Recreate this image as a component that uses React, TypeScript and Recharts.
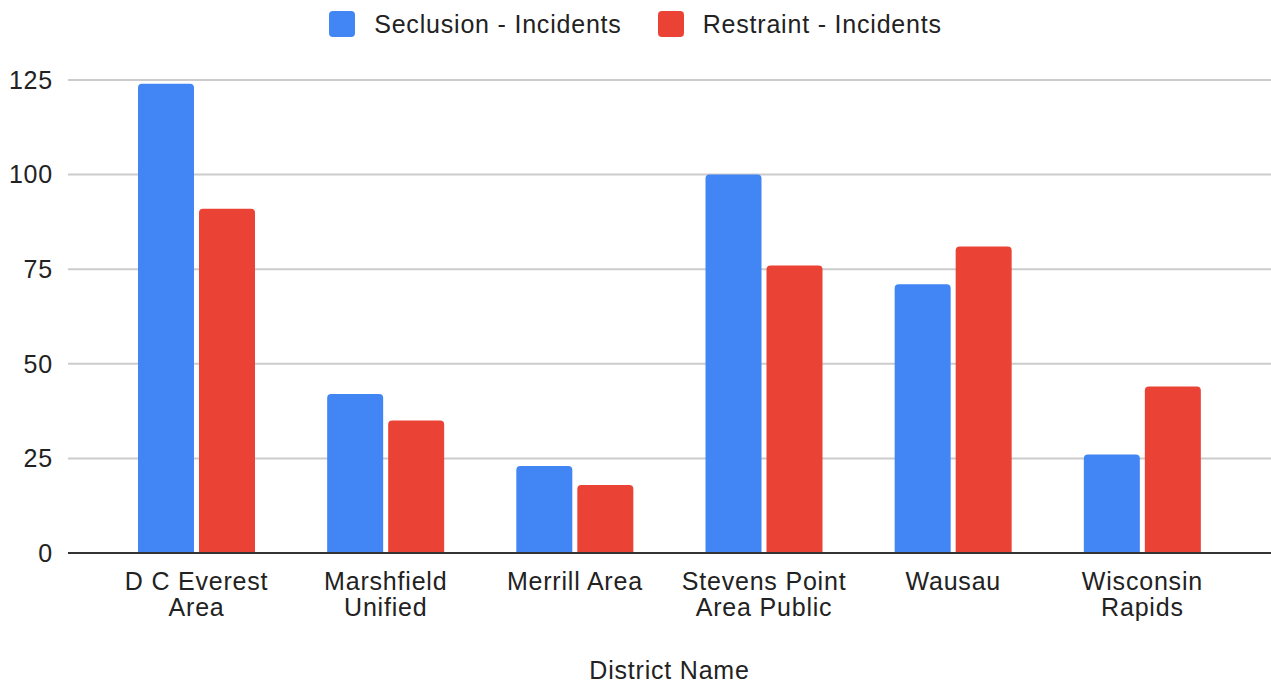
import React from "react";
import { BarChart, Bar, XAxis, YAxis, CartesianGrid, Legend } from "recharts";

const districts = [
  "D C Everest Area",
  "Marshfield Unified",
  "Merrill Area",
  "Stevens Point Area Public",
  "Wausau",
  "Wisconsin Rapids",
];
const seclusion = [124, 42, 23, 100, 71, 26];
const restraint = [91, 35, 18, 76, 81, 44];
const yTicks = [0, 25, 50, 75, 100, 125];

const data = districts.map((name, i) => ({
  name,
  seclusion: seclusion[i],
  restraint: restraint[i],
}));

const FONT = "Arial, 'Liberation Sans', sans-serif";
const TEXT = "#222";
const FS = 25;
const LS = 0.8;

function wrap(label: string, maxChars = 13) {
  const lines: string[] = [];
  let cur = "";
  for (const w of label.split(" ")) {
    const next = cur ? cur + " " + w : w;
    if (next.length > maxChars && cur) {
      lines.push(cur);
      cur = w;
    } else {
      cur = next;
    }
  }
  if (cur) lines.push(cur);
  return lines;
}

function DistrictTick(props: any) {
  const { x, y, payload } = props;
  const lines = wrap(payload.value);
  return (
    <text x={x} y={y + 35} textAnchor="middle" fill={TEXT} fontSize={FS} fontFamily={FONT} letterSpacing={LS}>
      {lines.map((l, i) => (
        <tspan key={i} x={x} dy={i === 0 ? 0 : 26}>
          {l}
        </tspan>
      ))}
    </text>
  );
}

function LegendContent() {
  const items = [
    { label: "Seclusion - Incidents", color: "#4285F4" },
    { label: "Restraint - Incidents", color: "#EA4335" },
  ];
  return (
    <div style={{ display: "flex", justifyContent: "center", gap: 36, fontFamily: FONT, fontSize: FS, letterSpacing: LS, color: TEXT, lineHeight: "28px" }}>
      {items.map((it) => (
        <div key={it.label} style={{ display: "flex", alignItems: "center" }}>
          <span style={{ width: 26, height: 26, borderRadius: 4, background: it.color, marginRight: 19, display: "inline-block" }} />
          <span>{it.label}</span>
        </div>
      ))}
    </div>
  );
}

export default function App() {
  return (
    <div style={{ position: "absolute", left: 0, top: 0, background: "#fff" }}>
      <BarChart
        width={1271}
        height={685}
        data={data}
        margin={{ top: 52, right: 0, bottom: 0, left: 0 }}
        barGap={5}
        barSize={56}
      >
        <CartesianGrid vertical={false} stroke="#ccc" strokeWidth={2} />
        <XAxis
          dataKey="name"
          tick={<DistrictTick />}
          tickLine={false}
          axisLine={{ stroke: "#333", strokeWidth: 2 }}
          tickSize={0}
          height={132}
          padding={{ left: 34, right: 34 }}
          interval={0}
          label={{ value: "District Name", position: "insideBottom", offset: 6, fill: TEXT, fontSize: FS, fontFamily: FONT, letterSpacing: LS }}
        />
        <YAxis
          domain={[0, 125]}
          ticks={yTicks}
          width={68}
          axisLine={false}
          tickLine={false}
          tickSize={0}
          tickMargin={15}
          tick={{ fill: TEXT, fontSize: FS, fontFamily: FONT, letterSpacing: LS }}
        />
        <Legend verticalAlign="top" height={28} content={<LegendContent />} wrapperStyle={{ top: 10, left: 0, width: 1271 }} />
        <Bar dataKey="seclusion" name="Seclusion - Incidents" fill="#4285F4" radius={[4, 4, 0, 0]} isAnimationActive={false} />
        <Bar dataKey="restraint" name="Restraint - Incidents" fill="#EA4335" radius={[4, 4, 0, 0]} isAnimationActive={false} />
      </BarChart>
    </div>
  );
}
